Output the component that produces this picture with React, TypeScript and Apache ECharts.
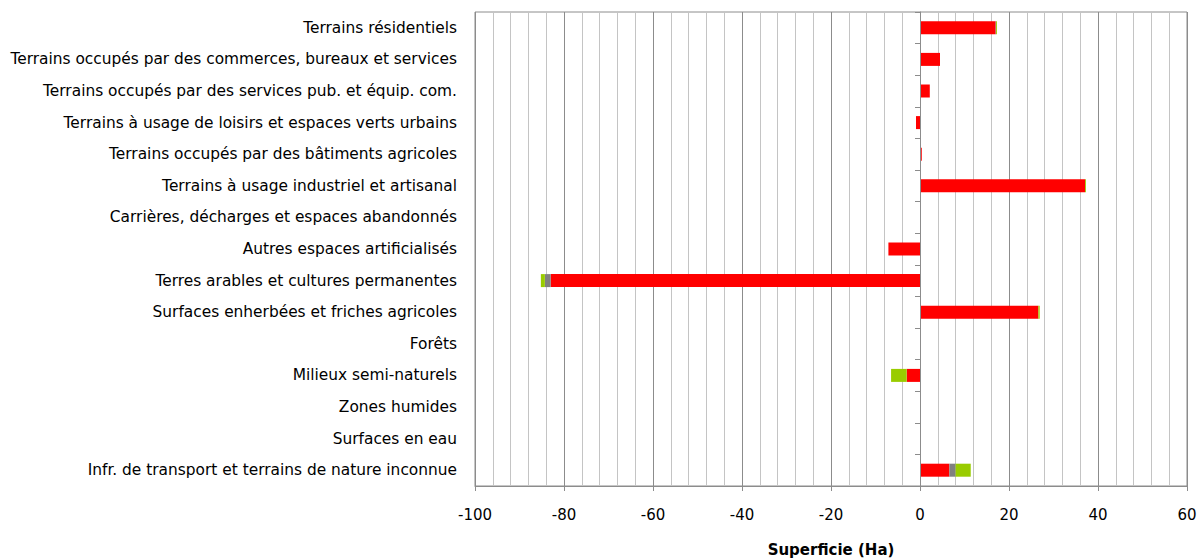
import React, { useEffect, useRef } from "react";
import * as echarts from "echarts";

const categories = [
  "Terrains résidentiels",
  "Terrains occupés par des commerces, bureaux et services",
  "Terrains occupés par des services pub. et équip. com.",
  "Terrains à usage de loisirs et espaces verts urbains",
  "Terrains occupés par des bâtiments agricoles",
  "Terrains à usage industriel et artisanal",
  "Carrières, décharges et espaces abandonnés",
  "Autres espaces artificialisés",
  "Terres arables et cultures permanentes",
  "Surfaces enherbées et friches agricoles",
  "Forêts",
  "Milieux semi-naturels",
  "Zones humides",
  "Surfaces en eau",
  "Infr. de transport et terrains de nature inconnue",
];

const redValues = [17.0, 4.5, 2.2, -0.9, 0.4, 37.1, 0, -7.1, -83.0, 26.6, 0, -3.0, 0, 0, 6.6];
const grayValues = [0.1, 0, 0, 0, 0, 0, 0, 0, -1.3, 0, 0, 0, 0, 0, 1.4];
const greenValues = [0.2, 0, 0, 0, 0, 0.2, 0, 0, -0.9, 0.3, 0, -3.5, 0, 0, 3.4];

const FONT = "DejaVu Sans, Verdana, sans-serif";

export default function App() {
  const ref = useRef<HTMLDivElement>(null);
  useEffect(() => {
    if (!ref.current) return;
    const chart = echarts.init(ref.current, null, { renderer: "svg" });
    const barW = 13;
    chart.setOption({
      animation: false,
      backgroundColor: "#ffffff",
      grid: {
        left: 475,
        top: 12,
        right: 12,
        bottom: 72,
        containLabel: false,
        outerBoundsMode: "none",
        show: true,
        borderColor: "#8c8c8c",
        borderWidth: 1,
        backgroundColor: "transparent",
      },
      xAxis: {
        type: "value",
        min: -100,
        max: 60,
        interval: 20,
        axisLine: { show: true, onZero: false, lineStyle: { color: "#8c8c8c", width: 1 } },
        axisTick: { show: true, length: 5, lineStyle: { color: "#8c8c8c" } },
        axisLabel: { color: "#000", fontFamily: FONT, fontSize: 15, margin: 21 },
        splitLine: { show: true, lineStyle: { color: "#8c8c8c", width: 1 } },
        minorTick: { show: false, splitNumber: 5 },
        minorSplitLine: { show: true, lineStyle: { color: "#c4c4c4", width: 1 } },
        name: "Superficie (Ha)",
        nameLocation: "middle",
        nameGap: 56,
        nameTextStyle: { color: "#000", fontFamily: FONT, fontSize: 15, fontWeight: "bold" },
      },
      yAxis: [
        {
          type: "category",
          data: categories,
          inverse: true,
          position: "left",
          axisLine: { show: true, onZero: true, lineStyle: { color: "#8c8c8c", width: 1 } },
          axisTick: { show: true, length: 5, lineStyle: { color: "#8c8c8c" } },
          axisLabel: { show: false },
          splitLine: { show: false },
          z: 5,
        },
        {
          type: "category",
          data: categories,
          inverse: true,
          position: "left",
          axisLine: { show: false, onZero: false },
          axisTick: { show: false },
          axisLabel: { show: true, color: "#000", fontFamily: FONT, fontSize: 15.4, margin: 18 },
          splitLine: { show: false },
        },
      ],
      series: [
        {
          name: "rouge",
          type: "bar",
          stack: "s",
          yAxisIndex: 0,
          data: redValues,
          barWidth: barW,
          itemStyle: { color: "#ff0000" },
        },
        {
          name: "gris",
          type: "bar",
          stack: "s",
          yAxisIndex: 0,
          data: grayValues,
          barWidth: barW,
          itemStyle: { color: "#808080" },
        },
        {
          name: "vert",
          type: "bar",
          stack: "s",
          yAxisIndex: 0,
          data: greenValues,
          barWidth: barW,
          itemStyle: { color: "#99cc00" },
        },
      ],
    });
    return () => chart.dispose();
  }, []);
  return (
    <div
      ref={ref}
      style={{ position: "absolute", left: 0, top: 0, width: 1199, height: 558 }}
    />
  );
}
